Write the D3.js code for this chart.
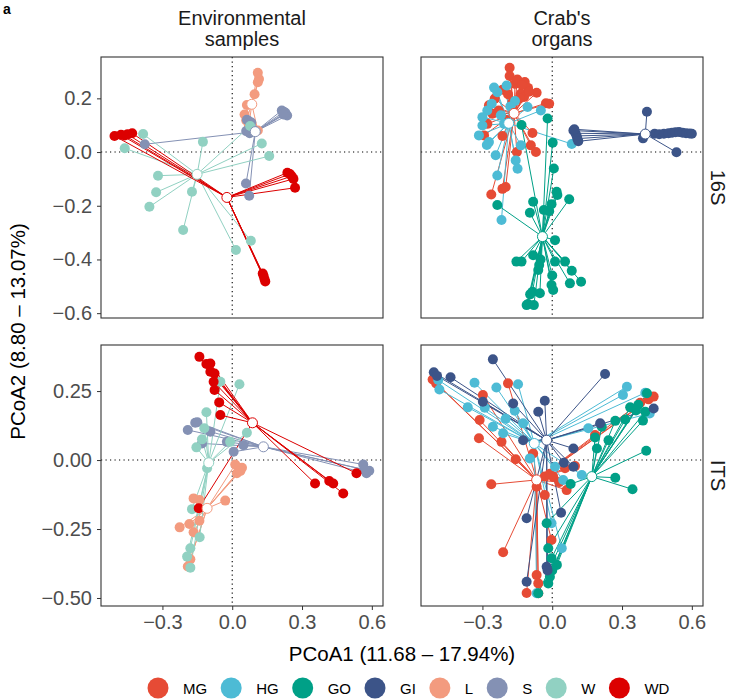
<!DOCTYPE html>
<html>
<head>
<meta charset="utf-8">
<script src="https://cdn.jsdelivr.net/npm/d3@7"></script>
<style>
  body { margin: 0; background: #fff; }
  svg { display: block; font-family: "Liberation Sans", Arial, Helvetica, sans-serif; }
</style>
</head>
<body>
<svg id="chart" width="730" height="700"></svg>
<script>
// groups and colours (legend order)
const groups = ["MG", "HG", "GO", "GI", "L", "S", "W", "WD"];
const colours = ["#E64B35", "#4DBBD5", "#00A087", "#3C5488", "#F39B7F", "#8491B4", "#91D1C2", "#DC0000"];

const colLabels = [["Environmental", "samples"], ["Crab's", "organs"]];
const rowLabels = ["16S", "ITS"];
const xTicks = [-0.3, 0.0, 0.3, 0.6];
const yTicks16S = [0.2, 0.0, -0.2, -0.4, -0.6];
const yTicksITS = [0.25, 0.0, -0.25, -0.5];
const xTitle = "PCoA1 (11.68 – 17.94%)";
const yTitle = "PCoA2 (8.80 – 13.07%)";

// ---- 16S, environmental samples
const env16_L = [[0.110,0.295],[0.115,0.272],[0.110,0.260],[0.096,0.215],[0.063,0.175],[0.053,0.140],[0.060,0.118],[0.072,0.100],[0.110,0.080]];
const env16_S = [[0.213,0.155],[0.222,0.150],[0.230,0.142],[0.236,0.136],[0.228,0.146],[0.220,0.140],[0.063,0.120],[0.072,0.115],[0.082,0.110],[0.060,0.078],[0.075,0.070],[0.088,0.085],[-0.376,0.029],[0.059,-0.117],[0.073,-0.163]];
const env16_W = [[-0.383,0.067],[-0.462,0.014],[-0.126,0.038],[-0.319,-0.088],[-0.327,-0.150],[-0.356,-0.204],[-0.173,-0.148],[-0.211,-0.290],[0.016,-0.365],[0.080,-0.330],[0.077,0.097],[0.127,0.032],[0.159,-0.015]];
const env16_WD = [[-0.506,0.060],[-0.478,0.064],[-0.462,0.062],[-0.450,0.066],[-0.430,0.070],[0.237,-0.077],[0.248,-0.082],[0.256,-0.090],[0.263,-0.100],[0.270,-0.133],[0.131,-0.452],[0.135,-0.462],[0.139,-0.474],[0.142,-0.482]];
const env16_centroids = { L: [0.084, 0.178], S: [0.099, 0.076], W: [-0.151, -0.083], WD: [-0.023, -0.169] };

// ---- 16S, crab's organs
const crab16_MG = [[-0.183,0.314],[-0.183,0.283],[-0.160,0.254],[-0.118,0.261],[-0.104,0.239],[-0.135,0.217],[-0.067,0.221],[-0.214,0.232],[-0.247,0.199],[-0.272,0.174],[-0.171,0.186],[-0.121,0.205],[-0.013,0.180],[-0.027,0.182],[-0.257,0.143],[-0.279,0.105],[-0.293,0.062],[-0.214,0.060],[-0.085,0.071],[-0.092,0.025],[-0.070,0.000],[-0.152,0.000],[-0.214,-0.137],[-0.262,-0.158],[-0.150,0.270],[-0.130,0.250],[-0.100,0.225],[-0.190,0.215],[-0.230,0.155],[-0.200,0.120],[-0.140,0.200],[-0.200,-0.130]];
const crab16_HG = [[-0.196,0.248],[-0.236,0.223],[-0.250,0.240],[-0.279,0.155],[-0.300,0.099],[-0.315,0.062],[-0.272,0.037],[-0.281,0.026],[-0.243,-0.012],[-0.236,-0.087],[-0.157,-0.031],[-0.149,-0.062],[-0.135,0.025],[-0.049,0.155],[-0.106,0.168],[-0.207,0.105],[-0.221,0.137],[0.084,0.030],[-0.218,-0.253],[-0.160,0.190],[-0.180,0.170],[-0.300,0.130],[-0.260,0.180]];
const crab16_GO = [[-0.020,0.125],[-0.132,0.101],[0.002,0.035],[0.007,-0.061],[0.019,-0.148],[0.022,-0.160],[0.073,-0.176],[-0.003,-0.194],[-0.082,-0.185],[-0.036,-0.216],[-0.013,-0.220],[-0.096,-0.226],[-0.236,-0.197],[-0.154,-0.408],[-0.132,-0.408],[-0.082,-0.384],[-0.056,-0.421],[-0.060,-0.439],[0.012,-0.408],[0.055,-0.408],[0.084,-0.442],[0.124,-0.483],[0.076,-0.489],[-0.003,-0.495],[0.004,-0.514],[-0.085,-0.520],[-0.053,-0.526],[-0.095,-0.530],[-0.104,-0.566],[-0.079,-0.570],[-0.110,-0.570],[0.012,-0.328],[-0.050,-0.400],[0.000,-0.460]];
const crab16_GI = [[0.407,0.150],[0.390,0.051],[0.534,-0.001],[0.440,0.068],[0.460,0.066],[0.480,0.068],[0.500,0.070],[0.515,0.072],[0.530,0.074],[0.545,0.075],[0.560,0.072],[0.575,0.070],[0.590,0.069],[0.600,0.068],[0.091,0.080],[0.100,0.070],[0.105,0.060],[0.108,0.050],[0.112,0.040],[0.095,0.085]];
const crab16_centroids = { MG: [-0.164, 0.144], HG: [-0.187, 0.107], GO: [-0.042, -0.315], GI: [0.400, 0.067] };

// ---- ITS, environmental samples
const envITS_L = [[0.013,-0.016],[0.042,-0.028],[0.020,-0.048],[0.035,-0.040],[-0.030,-0.147],[-0.166,-0.139],[-0.141,-0.145],[-0.226,-0.244],[-0.184,-0.232],[-0.141,-0.220],[-0.166,-0.262],[-0.180,-0.360],[-0.191,-0.386]];
const envITS_S = [[-0.191,0.109],[-0.159,0.135],[-0.150,0.137],[-0.130,0.060],[-0.094,0.103],[-0.023,0.066],[0.006,0.030],[0.048,0.054],[0.563,-0.016],[0.577,-0.048],[0.589,-0.039],[0.570,-0.035]];
const envITS_W = [[-0.051,0.284],[0.031,0.275],[-0.111,0.173],[-0.120,0.115],[-0.130,0.075],[-0.154,0.046],[-0.009,0.066],[0.063,0.099],[-0.108,-0.030],[-0.173,-0.178],[-0.140,-0.280],[-0.180,-0.320],[-0.194,-0.350],[-0.180,-0.390]];
const envITS_WD = [[-0.141,0.374],[-0.111,0.348],[-0.094,0.350],[-0.094,0.320],[-0.076,0.314],[-0.080,0.284],[-0.076,0.254],[-0.056,0.209],[-0.051,0.163],[0.356,-0.085],[0.417,-0.076],[0.434,-0.085],[0.477,-0.121],[0.534,-0.048],[-0.144,-0.175]];
const envITS_centroids = { L: [-0.108, -0.175], S: [0.134, 0.048], W: [-0.101, -0.010], WD: [0.087, 0.135] };

// ---- ITS, crab's organs
const crabITS_MG = [[-0.514,0.292],[-0.499,0.278],[-0.298,0.236],[-0.190,0.278],[-0.312,0.145],[-0.315,0.079],[-0.218,0.066],[-0.157,0.003],[-0.262,-0.088],[-0.211,-0.334],[-0.082,0.024],[-0.067,-0.097],[-0.032,-0.060],[0.004,-0.060],[-0.032,-0.127],[0.062,-0.109],[0.055,-0.030],[0.098,-0.022],[-0.003,-0.290],[-0.067,-0.417],[-0.060,-0.447],[-0.110,-0.482],[-0.060,-0.483],[0.378,0.208],[0.414,0.220],[0.436,0.230],[0.184,0.091],[-0.010,-0.050],[0.030,-0.080]];
const crabITS_HG = [[-0.334,0.280],[-0.240,0.263],[-0.147,0.275],[-0.485,0.256],[-0.490,0.290],[-0.363,0.191],[-0.161,0.179],[-0.255,0.121],[-0.211,0.097],[-0.125,0.133],[0.321,0.266],[0.304,0.236],[0.419,0.169],[0.400,0.244],[0.155,0.115],[-0.096,0.006],[0.012,-0.024],[0.047,-0.072],[0.127,-0.054],[-0.003,-0.229],[0.041,-0.320],[-0.067,-0.483],[-0.290,0.190],[-0.200,0.150]];
const crabITS_GO = [[0.335,0.191],[0.370,0.200],[0.400,0.175],[0.390,0.143],[0.314,0.147],[0.271,0.142],[0.213,0.121],[0.184,0.082],[0.242,0.072],[0.192,0.042],[0.404,0.034],[0.271,-0.064],[0.345,-0.106],[0.079,-0.087],[-0.024,-0.229],[-0.017,-0.320],[-0.003,-0.356],[-0.010,-0.423],[-0.017,-0.447],[-0.060,-0.483],[0.407,0.242],[0.360,0.180],[0.020,-0.380],[0.000,-0.400]];
const crabITS_GI = [[-0.255,0.365],[-0.509,0.318],[-0.495,0.305],[-0.437,0.300],[0.227,0.312],[-0.032,0.215],[-0.060,0.175],[-0.168,0.205],[-0.298,0.211],[-0.125,0.072],[0.091,0.042],[0.436,0.187],[0.206,0.133],[-0.110,-0.211],[0.038,-0.191],[-0.110,-0.441],[-0.024,-0.387],[-0.020,-0.400],[0.091,-0.024],[0.050,-0.010]];
const crabITS_centroids = { MG: [-0.067, -0.072], HG: [-0.077, 0.060], GO: [0.170, -0.060], GI: [-0.024, 0.072] };

// panel table built from the arrays above
const panels = [
  { row: 0, col: 0, groups: { L: env16_L, S: env16_S, W: env16_W, WD: env16_WD }, centroids: env16_centroids },
  { row: 0, col: 1, groups: { MG: crab16_MG, HG: crab16_HG, GO: crab16_GO, GI: crab16_GI }, centroids: crab16_centroids },
  { row: 1, col: 0, groups: { L: envITS_L, S: envITS_S, W: envITS_W, WD: envITS_WD }, centroids: envITS_centroids },
  { row: 1, col: 1, groups: { MG: crabITS_MG, HG: crabITS_HG, GO: crabITS_GO, GI: crabITS_GI }, centroids: crabITS_centroids }
];

const svg = d3.select("#chart");
const colour = d3.scaleOrdinal().domain(groups).range(colours);

const panelW = 282, panelH = 261;
const colX = [101, 421];
const rowY = [57, 345];

const x = d3.scaleLinear().domain([-0.564, 0.648]).range([0, panelW]);
const yScales = [
  d3.scaleLinear().domain([-0.618, 0.354]).range([panelH, 0]),
  d3.scaleLinear().domain([-0.529, 0.417]).range([panelH, 0])
];
const yFormats = [d3.format(".1f"), d3.format(".2f")];
const yTickSets = [yTicks16S, yTicksITS];

panels.forEach(p => {
  const y = yScales[p.row];
  const g = svg.append("g").attr("transform", `translate(${colX[p.col]},${rowY[p.row]})`);

  // reference lines at 0
  g.append("line")
    .attr("x1", x(0)).attr("x2", x(0)).attr("y1", 0).attr("y2", panelH)
    .attr("stroke", "#000").attr("stroke-width", 1.1).attr("stroke-dasharray", "1.2,3.3");
  g.append("line")
    .attr("x1", 0).attr("x2", panelW).attr("y1", y(0)).attr("y2", y(0))
    .attr("stroke", "#000").attr("stroke-width", 1.1).attr("stroke-dasharray", "1.2,3.3");

  const keys = Object.keys(p.groups);

  // spider segments
  keys.forEach(k => {
    const c = p.centroids[k];
    g.append("g")
      .selectAll("line")
      .data(p.groups[k])
      .join("line")
      .attr("x1", x(c[0])).attr("y1", y(c[1]))
      .attr("x2", d => x(d[0])).attr("y2", d => y(d[1]))
      .attr("stroke", colour(k))
      .attr("stroke-width", 1);
  });

  // samples
  keys.forEach(k => {
    g.append("g")
      .selectAll("circle")
      .data(p.groups[k])
      .join("circle")
      .attr("cx", d => x(d[0]))
      .attr("cy", d => y(d[1]))
      .attr("r", 5)
      .attr("fill", colour(k));
  });

  // centroids
  g.append("g")
    .selectAll("circle")
    .data(keys)
    .join("circle")
    .attr("cx", k => x(p.centroids[k][0]))
    .attr("cy", k => y(p.centroids[k][1]))
    .attr("r", 5)
    .attr("fill", "#fff")
    .attr("stroke", k => colour(k))
    .attr("stroke-width", 1);

  // panel border
  g.append("rect")
    .attr("width", panelW).attr("height", panelH)
    .attr("fill", "none").attr("stroke", "#333").attr("stroke-width", 1.1);

  // axes
  if (p.col === 0) {
    g.append("g")
      .call(d3.axisLeft(y).tickValues(yTickSets[p.row]).tickFormat(yFormats[p.row]).tickSize(4).tickPadding(5))
      .call(a => a.select(".domain").remove())
      .call(a => a.selectAll("line").attr("stroke", "#333"))
      .call(a => a.selectAll("text").attr("fill", "#4D4D4D").style("font-size", "20px").style("font-family", "Liberation Sans, Arial, sans-serif"));
  }
  if (p.row === 1) {
    g.append("g")
      .attr("transform", `translate(0,${panelH})`)
      .call(d3.axisBottom(x).tickValues(xTicks).tickFormat(d3.format(".1f")).tickSize(4).tickPadding(5))
      .call(a => a.select(".domain").remove())
      .call(a => a.selectAll("line").attr("stroke", "#333"))
      .call(a => a.selectAll("text").attr("fill", "#4D4D4D").style("font-size", "20px").style("font-family", "Liberation Sans, Arial, sans-serif"));
  }
});

// column strips
colLabels.forEach((lines, i) => {
  const t = svg.append("text")
    .attr("x", colX[i] + panelW / 2)
    .attr("y", 25)
    .attr("text-anchor", "middle")
    .attr("fill", "#1A1A1A")
    .style("font-size", "20px");
  lines.forEach((s, j) => t.append("tspan").attr("x", colX[i] + panelW / 2).attr("dy", j ? 21 : 0).text(s));
});

// row strips
rowLabels.forEach((s, i) => {
  svg.append("text")
    .attr("transform", `translate(711,${rowY[i] + panelH / 2}) rotate(90)`)
    .attr("text-anchor", "middle")
    .attr("fill", "#1A1A1A")
    .style("font-size", "20px")
    .text(s);
});

// axis titles
svg.append("text")
  .attr("x", colX[0] + (colX[1] + panelW - colX[0]) / 2)
  .attr("y", 661)
  .attr("text-anchor", "middle")
  .attr("fill", "#000")
  .style("font-size", "20.5px")
  .text(xTitle);

svg.append("text")
  .attr("transform", `translate(25,${(rowY[0] + rowY[1] + panelH) / 2}) rotate(-90)`)
  .attr("text-anchor", "middle")
  .attr("fill", "#000")
  .style("font-size", "20.5px")
  .text(yTitle);

// panel tag
svg.append("text")
  .attr("x", 3).attr("y", 14)
  .style("font-size", "14px").style("font-weight", "bold")
  .text("a");

// legend
const legend = svg.append("g").attr("transform", "translate(0,688)");
let cursor = 158;
groups.forEach(k => {
  legend.append("circle").attr("cx", cursor).attr("cy", 0).attr("r", 10.5).attr("fill", colour(k));
  const t = legend.append("text")
    .attr("x", cursor + 25)
    .attr("y", 5.5)
    .attr("fill", "#000")
    .style("font-size", "15px")
    .text(k);
  cursor += 25 + t.node().getComputedTextLength() + 24;
});
</script>
</body>
</html>
